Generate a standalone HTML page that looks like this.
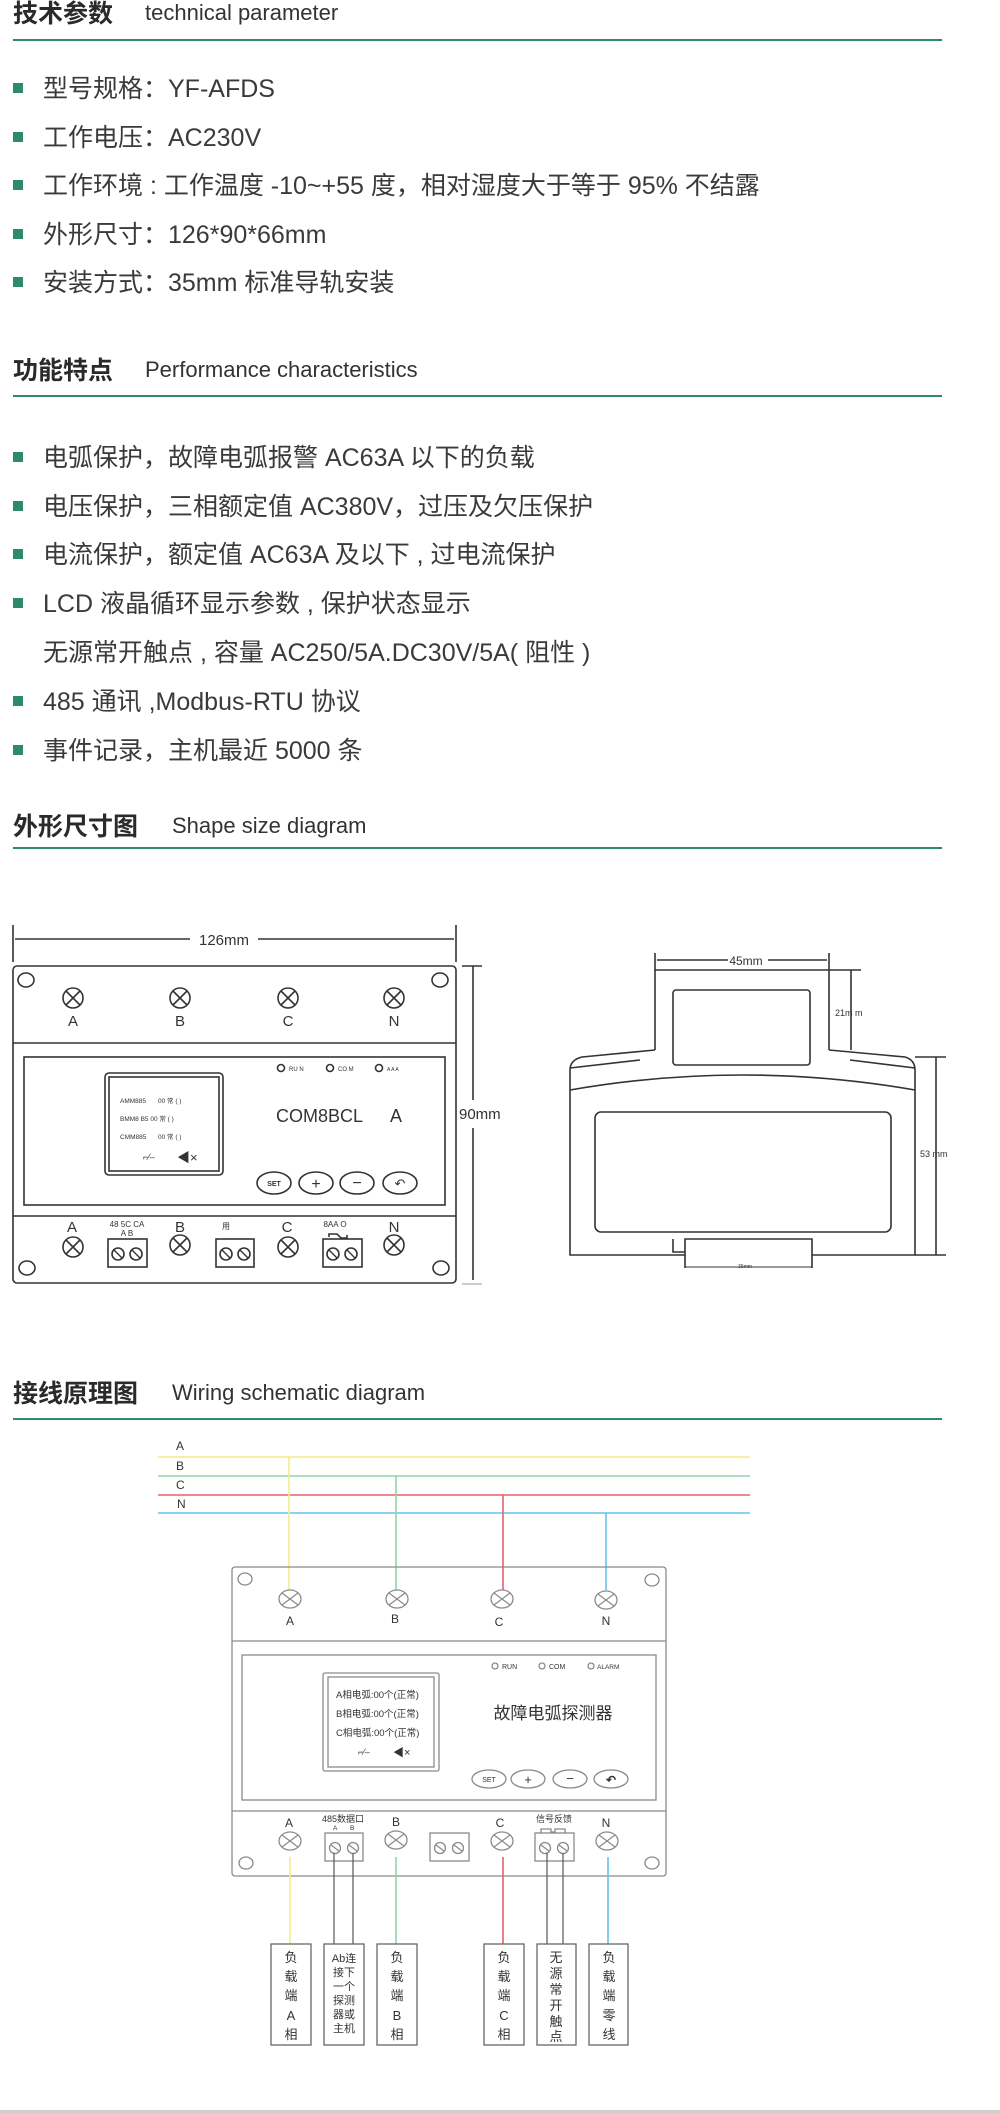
<!DOCTYPE html>
<html><head><meta charset="utf-8"><style>
html,body{margin:0;padding:0;background:#fff;}
svg{display:block;}
text{font-family:"Liberation Sans","Noto Sans CJK SC",sans-serif;fill:#333;}
.h{font-weight:bold;font-size:25px;fill:#2a2a2a}
.he{font-size:22px;fill:#333}
.b{font-size:25px;fill:#3a3a3a}
.d{stroke:#333;fill:none;stroke-width:1.6}
.w{stroke:#8a8a8a;fill:none;stroke-width:1.3}
.wt{font-size:12px;fill:#333}
</style></head><body>
<svg width="1000" height="2113" viewBox="0 0 1000 2113" xmlns="http://www.w3.org/2000/svg">
<defs>
<g id="tx"><circle r="10" class="d"/><line x1="-7" y1="-7" x2="7" y2="7" stroke="#333" stroke-width="1.6"/><line x1="-7" y1="7" x2="7" y2="-7" stroke="#333" stroke-width="1.6"/></g>
<g id="tw"><ellipse rx="11" ry="9" class="w"/><line x1="-8" y1="-6" x2="8" y2="6" stroke="#8a8a8a" stroke-width="1.2"/><line x1="-8" y1="6" x2="8" y2="-6" stroke="#8a8a8a" stroke-width="1.2"/></g>
<g id="sd"><circle r="6" class="d"/><line x1="-4" y1="-4" x2="4" y2="4" stroke="#333" stroke-width="1.3"/></g>
<g id="sw"><circle r="5.5" class="w"/><line x1="-4" y1="-3" x2="4" y2="3" stroke="#8a8a8a" stroke-width="1.2"/></g>
</defs>

<!-- Section 1 -->
<text x="13" y="22" class="h">技术参数</text>
<text x="145" y="20" class="he">technical parameter</text>
<rect x="13" y="39" width="929" height="2" fill="#2e8b6a"/>
<rect x="13" y="83" width="10" height="10" fill="#2e8b6a"/><text x="43" y="97" class="b">型号规格：YF-AFDS</text>
<rect x="13" y="132" width="10" height="10" fill="#2e8b6a"/><text x="43" y="146" class="b">工作电压：AC230V</text>
<rect x="13" y="180" width="10" height="10" fill="#2e8b6a"/><text x="43" y="194" class="b">工作环境 : 工作温度 -10~+55 度，相对湿度大于等于 95% 不结露</text>
<rect x="13" y="229" width="10" height="10" fill="#2e8b6a"/><text x="43" y="243" class="b">外形尺寸：126*90*66mm</text>
<rect x="13" y="277" width="10" height="10" fill="#2e8b6a"/><text x="43" y="291" class="b">安装方式：35mm 标准导轨安装</text>

<!-- Section 2 -->
<text x="13" y="379" class="h">功能特点</text>
<text x="145" y="377" class="he">Performance  characteristics</text>
<rect x="13" y="395" width="929" height="2" fill="#2e8b6a"/>
<rect x="13" y="452" width="10" height="10" fill="#2e8b6a"/><text x="43" y="466" class="b">电弧保护，故障电弧报警 AC63A 以下的负载</text>
<rect x="13" y="501" width="10" height="10" fill="#2e8b6a"/><text x="43" y="515" class="b">电压保护，三相额定值 AC380V，过压及欠压保护</text>
<rect x="13" y="549" width="10" height="10" fill="#2e8b6a"/><text x="43" y="563" class="b">电流保护，额定值 AC63A 及以下 , 过电流保护</text>
<rect x="13" y="598" width="10" height="10" fill="#2e8b6a"/><text x="43" y="612" class="b">LCD 液晶循环显示参数 , 保护状态显示</text>
<text x="43" y="661" class="b">无源常开触点 , 容量 AC250/5A.DC30V/5A( 阻性 )</text>
<rect x="13" y="696" width="10" height="10" fill="#2e8b6a"/><text x="43" y="710" class="b">485 通讯 ,Modbus-RTU 协议</text>
<rect x="13" y="745" width="10" height="10" fill="#2e8b6a"/><text x="43" y="759" class="b">事件记录，主机最近 5000 条</text>

<!-- Section 3 -->
<text x="13" y="835" class="h">外形尺寸图</text>
<text x="172" y="833" class="he">Shape size diagram</text>
<rect x="13" y="847" width="929" height="2" fill="#2e8b6a"/>

<!-- left device -->
<line x1="13" y1="925" x2="13" y2="962" class="d"/>
<line x1="456" y1="925" x2="456" y2="962" class="d"/>
<line x1="15" y1="939" x2="190" y2="939" class="d"/>
<line x1="258" y1="939" x2="454" y2="939" class="d"/>
<text x="224" y="945" font-size="15" text-anchor="middle">126mm</text>
<rect x="13" y="966" width="443" height="317" rx="4" class="d"/>
<line x1="13" y1="1043" x2="456" y2="1043" class="d"/>
<line x1="13" y1="1216" x2="456" y2="1216" class="d"/>
<rect x="24" y="1057" width="421" height="148" class="d"/>
<ellipse cx="26" cy="980" rx="8" ry="7" class="d"/>
<ellipse cx="440" cy="980" rx="8" ry="7" class="d"/>
<ellipse cx="27" cy="1268" rx="8" ry="7" class="d"/>
<ellipse cx="441" cy="1268" rx="8" ry="7" class="d"/>
<use href="#tx" x="73" y="998"/><use href="#tx" x="180" y="998"/><use href="#tx" x="288" y="998"/><use href="#tx" x="394" y="998"/>
<g font-size="15" text-anchor="middle">
<text x="73" y="1026">A</text><text x="180" y="1026">B</text><text x="288" y="1026">C</text><text x="394" y="1026">N</text>
</g>
<rect x="105" y="1073" width="118" height="102" rx="4" class="d"/>
<rect x="109" y="1077" width="110" height="94" class="d" stroke-width="1"/>
<g font-size="6.5" fill="#333">
<text x="120" y="1103">AMM885</text><text x="158" y="1103">00 常  (    )</text>
<text x="120" y="1121">BMM8   B5 00 常  (    )</text>
<text x="120" y="1139">CMM885</text><text x="158" y="1139">00 常  (    )</text>
</g>
<text x="143" y="1160" font-size="9">⌐⁄–</text>
<text x="177" y="1162" font-size="13">◀×</text>
<circle cx="281" cy="1068" r="3.5" class="d"/><text x="289" y="1071" font-size="6">RU N</text>
<circle cx="330" cy="1068" r="3.5" class="d"/><text x="338" y="1071" font-size="6">CO M</text>
<circle cx="379" cy="1068" r="3.5" class="d"/><text x="387" y="1071" font-size="5">A A A</text>
<text x="276" y="1122" font-size="18" fill="#555">COM8BCL</text>
<text x="390" y="1122" font-size="18" fill="#555">A</text>
<ellipse cx="274" cy="1183" rx="17" ry="11" class="d"/><text x="274" y="1186" font-size="7" font-weight="bold" text-anchor="middle">SET</text>
<ellipse cx="316" cy="1183" rx="17" ry="11" class="d"/><text x="316" y="1189" font-size="16" text-anchor="middle">+</text>
<ellipse cx="357" cy="1183" rx="17" ry="11" class="d"/><text x="357" y="1188" font-size="16" text-anchor="middle">−</text>
<ellipse cx="400" cy="1183" rx="17" ry="11" class="d"/><text x="400" y="1188" font-size="13" text-anchor="middle">↶</text>
<g font-size="15" text-anchor="middle">
<text x="72" y="1232">A</text><text x="180" y="1232">B</text><text x="287" y="1232">C</text><text x="394" y="1232">N</text>
</g>
<use href="#tx" x="73" y="1247"/><use href="#tx" x="180" y="1245"/><use href="#tx" x="288" y="1247"/><use href="#tx" x="394" y="1245"/>
<g font-size="8" text-anchor="middle">
<text x="127" y="1227">48 5C  CA</text><text x="127" y="1236">A    B</text>
<text x="226" y="1229">用</text>
<text x="335" y="1227">8AA O</text>
</g>
<path d="M329 1237 v-3 h8 l4 4 h6 v-3" class="d" stroke-width="1"/>
<rect x="108" y="1239" width="39" height="28" class="d"/><use href="#sd" x="118" y="1254"/><use href="#sd" x="136" y="1254"/>
<rect x="216" y="1239" width="38" height="28" class="d"/><use href="#sd" x="226" y="1254"/><use href="#sd" x="244" y="1254"/>
<rect x="323" y="1239" width="39" height="28" class="d"/><use href="#sd" x="333" y="1254"/><use href="#sd" x="351" y="1254"/>
<line x1="462" y1="966" x2="482" y2="966" class="d"/>
<line x1="473" y1="966" x2="473" y2="1100" class="d"/>
<line x1="473" y1="1128" x2="473" y2="1280" class="d"/>
<line x1="462" y1="1284" x2="482" y2="1284" stroke="#999" stroke-width="1"/>
<text x="459" y="1119" font-size="15">90mm</text>

<!-- right device -->
<line x1="655" y1="953" x2="655" y2="970" class="d"/>
<line x1="829" y1="953" x2="829" y2="970" class="d"/>
<line x1="657" y1="960" x2="728" y2="960" class="d"/>
<line x1="768" y1="960" x2="827" y2="960" class="d"/>
<text x="746" y="965" font-size="12" text-anchor="middle">45mm</text>
<path d="M655 1050 V970 H829 V1050" class="d"/>
<rect x="673" y="990" width="137" height="75" rx="3" class="d"/>
<path d="M655 1050 L582 1057 Q570 1060 570 1070 V1255 H685 V1239 H812 V1255 H915 V1070 Q915 1060 905 1057 L829 1050" class="d"/>
<path d="M570 1068 L640 1060 M915 1068 L850 1060" class="d" stroke-width="1"/>
<path d="M570 1090 Q742 1060 915 1090" class="d"/>
<rect x="595" y="1112" width="296" height="120" rx="6" class="d"/>
<path d="M673 1239 V1252 H685" class="d" stroke-width="1"/>
<line x1="685" y1="1267" x2="812" y2="1267" stroke="#333" stroke-width="1"/>
<line x1="685" y1="1255" x2="685" y2="1268" class="d"/><line x1="812" y1="1255" x2="812" y2="1268" class="d"/>
<text x="745" y="1268" font-size="5" text-anchor="middle">35mm</text>
<line x1="829" y1="970" x2="861" y2="970" class="d"/>
<line x1="851" y1="970" x2="851" y2="1050" class="d"/>
<text x="835" y="1016" font-size="9">21m m</text>
<line x1="915" y1="1057" x2="946" y2="1057" class="d"/>
<line x1="936" y1="1057" x2="936" y2="1255" class="d"/>
<line x1="915" y1="1255" x2="946" y2="1255" class="d"/>
<text x="920" y="1157" font-size="9">53 mm</text>

<!-- Section 4 -->
<text x="13" y="1402" class="h">接线原理图</text>
<text x="172" y="1400" class="he">Wiring schematic diagram</text>
<rect x="13" y="1418" width="929" height="2" fill="#2e8b6a"/>

<g font-size="12" fill="#333">
<text x="176" y="1450">A</text><text x="176" y="1470">B</text><text x="176" y="1489">C</text><text x="177" y="1508">N</text>
</g>
<line x1="158" y1="1457" x2="750" y2="1457" stroke="#f3ec8a" stroke-width="1.6"/>
<line x1="158" y1="1476" x2="750" y2="1476" stroke="#93d4ac" stroke-width="1.6"/>
<line x1="158" y1="1495" x2="750" y2="1495" stroke="#e8606a" stroke-width="1.6"/>
<line x1="158" y1="1513" x2="750" y2="1513" stroke="#64c4ea" stroke-width="1.6"/>
<line x1="289" y1="1457" x2="289" y2="1590" stroke="#f3ec8a" stroke-width="1.6"/>
<line x1="396" y1="1476" x2="396" y2="1590" stroke="#93d4ac" stroke-width="1.6"/>
<line x1="503" y1="1495" x2="503" y2="1590" stroke="#e8606a" stroke-width="1.6"/>
<line x1="606" y1="1513" x2="606" y2="1590" stroke="#64c4ea" stroke-width="1.6"/>

<rect x="232" y="1567" width="434" height="309" rx="3" class="w"/>
<line x1="232" y1="1641" x2="666" y2="1641" class="w"/>
<line x1="232" y1="1811" x2="666" y2="1811" class="w"/>
<rect x="242" y="1655" width="414" height="145" class="w"/>
<ellipse cx="245" cy="1579" rx="7" ry="6" class="w"/><ellipse cx="652" cy="1580" rx="7" ry="6" class="w"/>
<ellipse cx="246" cy="1863" rx="7" ry="6" class="w"/><ellipse cx="652" cy="1863" rx="7" ry="6" class="w"/>
<use href="#tw" x="290" y="1599"/><use href="#tw" x="397" y="1599"/><use href="#tw" x="502" y="1599"/><use href="#tw" x="606" y="1600"/>
<g class="wt" text-anchor="middle">
<text x="290" y="1625">A</text><text x="395" y="1623">B</text><text x="499" y="1626">C</text><text x="606" y="1625">N</text>
</g>
<rect x="323" y="1673" width="116" height="98" rx="2" class="w"/>
<rect x="328" y="1677" width="106" height="90" class="w"/>
<g font-size="9.5" fill="#333">
<text x="336" y="1698">A相电弧:00个(正常)</text>
<text x="336" y="1717">B相电弧:00个(正常)</text>
<text x="336" y="1736">C相电弧:00个(正常)</text>
</g>
<text x="358" y="1755" font-size="9">⌐⁄–</text>
<text x="393" y="1756" font-size="11">◀×</text>
<circle cx="495" cy="1666" r="3" class="w"/><text x="502" y="1669" font-size="7">RUN</text>
<circle cx="542" cy="1666" r="3" class="w"/><text x="549" y="1669" font-size="7">COM</text>
<circle cx="591" cy="1666" r="3" class="w"/><text x="597" y="1669" font-size="6.5">ALARM</text>
<text x="553" y="1719" font-size="17" text-anchor="middle" fill="#333">故障电弧探测器</text>
<ellipse cx="489" cy="1779" rx="17" ry="9" class="w"/><text x="489" y="1782" font-size="7" text-anchor="middle">SET</text>
<ellipse cx="528" cy="1779" rx="17" ry="9" class="w"/><text x="528" y="1784" font-size="13" text-anchor="middle">+</text>
<ellipse cx="570" cy="1779" rx="17" ry="9" class="w"/><text x="570" y="1783" font-size="13" text-anchor="middle">−</text>
<ellipse cx="611" cy="1779" rx="17" ry="9" class="w"/><text x="611" y="1784" font-size="12" font-weight="bold" text-anchor="middle">↶</text>
<g class="wt" text-anchor="middle">
<text x="289" y="1827">A</text><text x="396" y="1826">B</text><text x="500" y="1827">C</text><text x="606" y="1827">N</text>
</g>
<text x="343" y="1822" font-size="9" text-anchor="middle">485数据口</text>
<text x="333" y="1830" font-size="6.5">A</text><text x="350" y="1830" font-size="6.5">B</text>
<text x="554" y="1822" font-size="9" text-anchor="middle">信号反馈</text>
<path d="M541 1833 v-4 h10 v3 h4 v-3 h10 v4" class="w" stroke-width="1"/>
<use href="#tw" x="290" y="1841"/><use href="#tw" x="396" y="1840"/><use href="#tw" x="502" y="1841"/><use href="#tw" x="607" y="1841"/>
<rect x="325" y="1833" width="38" height="28" class="w"/><use href="#sw" x="335" y="1848"/><use href="#sw" x="353" y="1848"/>
<rect x="430" y="1833" width="39" height="28" class="w"/><use href="#sw" x="440" y="1848"/><use href="#sw" x="458" y="1848"/>
<rect x="535" y="1833" width="39" height="28" class="w"/><use href="#sw" x="545" y="1848"/><use href="#sw" x="563" y="1848"/>

<line x1="290" y1="1857" x2="290" y2="1944" stroke="#f3ec8a" stroke-width="1.6"/>
<line x1="334" y1="1853" x2="334" y2="1944" stroke="#555" stroke-width="1.2"/>
<line x1="353" y1="1853" x2="353" y2="1944" stroke="#555" stroke-width="1.2"/>
<line x1="396" y1="1857" x2="396" y2="1944" stroke="#93d4ac" stroke-width="1.6"/>
<line x1="503" y1="1857" x2="503" y2="1944" stroke="#e8606a" stroke-width="1.6"/>
<line x1="547" y1="1853" x2="547" y2="1944" stroke="#555" stroke-width="1.2"/>
<line x1="563" y1="1853" x2="563" y2="1944" stroke="#555" stroke-width="1.2"/>
<line x1="608" y1="1857" x2="608" y2="1944" stroke="#64c4ea" stroke-width="1.6"/>

<g stroke="#666" stroke-width="1.3" fill="none">
<rect x="271" y="1944" width="40" height="101"/>
<rect x="324" y="1944" width="40" height="101"/>
<rect x="377" y="1944" width="40" height="101"/>
<rect x="484" y="1944" width="40" height="101"/>
<rect x="537" y="1944" width="39" height="101"/>
<rect x="589" y="1944" width="39" height="101"/>
</g>
<g font-size="13" text-anchor="middle" fill="#333">
<text x="291" y="1962">负</text><text x="291" y="1981">载</text><text x="291" y="2000">端</text><text x="291" y="2020">A</text><text x="291" y="2039">相</text>
<text x="397" y="1962">负</text><text x="397" y="1981">载</text><text x="397" y="2000">端</text><text x="397" y="2020">B</text><text x="397" y="2039">相</text>
<text x="504" y="1962">负</text><text x="504" y="1981">载</text><text x="504" y="2000">端</text><text x="504" y="2020">C</text><text x="504" y="2039">相</text>
<text x="556" y="1962">无</text><text x="556" y="1978">源</text><text x="556" y="1994">常</text><text x="556" y="2010">开</text><text x="556" y="2026">触</text><text x="556" y="2041">点</text>
<text x="609" y="1962">负</text><text x="609" y="1981">载</text><text x="609" y="2000">端</text><text x="609" y="2020">零</text><text x="609" y="2039">线</text>
</g>
<g font-size="11" text-anchor="middle" fill="#333">
<text x="344" y="1962">Ab连</text><text x="344" y="1976">接下</text><text x="344" y="1990">一个</text><text x="344" y="2004">探测</text><text x="344" y="2018">器或</text><text x="344" y="2032">主机</text>
</g>
<rect x="0" y="2110" width="1000" height="3" fill="#cfcfcf"/>
</svg>
</body></html>
